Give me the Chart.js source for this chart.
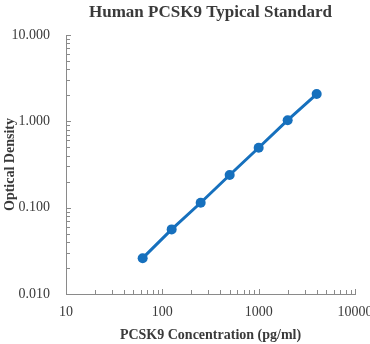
<!DOCTYPE html>
<html>
<head>
<meta charset="utf-8">
<script src="https://cdn.jsdelivr.net/npm/chart.js@4.4.1/dist/chart.umd.min.js"></script>
<style>
  html, body { margin: 0; padding: 0; background: #ffffff; }
  #c { display: block; }
</style>
</head>
<body>
<canvas id="c" width="370" height="344"></canvas>
<script>
// Standard curve: PCSK9 concentration (pg/ml) vs optical density
const concentrations = [62.5, 125, 250, 500, 1000, 2000, 4000];
const opticalDensity = [0.026, 0.056, 0.114, 0.239, 0.494, 1.03, 2.07];

// Decade ticks that carry labels
const xTickValues = [10, 100, 1000, 10000];
const yTickValues = [0.01, 0.1, 1, 10];

const chartTitle = 'Human PCSK9 Typical Standard';
const xAxisTitle = 'PCSK9 Concentration (pg/ml)';
const yAxisTitle = 'Optical Density';

const SERIF = '"Liberation Serif", "Times New Roman", serif';
const TEXT_COLOR = '#3a3a3a';
const AXIS_COLOR = '#8a8a8a';
const LINE_COLOR = '#1670bd';

// Short inward tick marks at every 1..9 step of each log decade
const innerTicks = {
  id: 'innerTicks',
  afterDraw(chart) {
    const ctx = chart.ctx;
    const { left, bottom } = chart.chartArea;
    const xs = chart.scales.x, ys = chart.scales.y;
    ctx.save();
    ctx.strokeStyle = AXIS_COLOR;
    ctx.lineWidth = 1;
    ctx.beginPath();
    const marks = (min, max, fn) => {
      for (let d = min; d < max * 1.0001; d *= 10) {
        for (let m = 1; m <= 9; m++) {
          const v = d * m;
          if (v > max * 1.0001) break;
          fn(v, m === 1);
        }
      }
    };
    marks(xs.min, xs.max, (v, major) => {
      const px = Math.round(xs.getPixelForValue(v)) + 0.5;
      ctx.moveTo(px, bottom);
      ctx.lineTo(px, bottom - (major ? 5 : 4));
    });
    marks(ys.min, ys.max, (v, major) => {
      const py = Math.round(ys.getPixelForValue(v)) + 0.5;
      ctx.moveTo(left, py);
      ctx.lineTo(left + (major ? 5 : 4), py);
    });
    ctx.stroke();
    ctx.restore();
  }
};

// Title centred over the plotting area
const plotTitle = {
  id: 'plotTitle',
  afterDraw(chart) {
    const ctx = chart.ctx;
    const { left, right } = chart.chartArea;
    ctx.save();
    ctx.font = 'bold 17px ' + SERIF;
    ctx.fillStyle = TEXT_COLOR;
    ctx.textAlign = 'center';
    ctx.textBaseline = 'middle';
    ctx.fillText(chartTitle, (left + right) / 2, 13);
    ctx.restore();
  }
};

const points = concentrations.map((x, i) => ({ x: x, y: opticalDensity[i] }));

new Chart(document.getElementById('c'), {
  type: 'line',
  data: {
    datasets: [{
      data: points,
      borderColor: LINE_COLOR,
      backgroundColor: LINE_COLOR,
      borderWidth: 3,
      pointRadius: 5,
      pointHoverRadius: 5,
      pointBorderWidth: 0,
      tension: 0
    }]
  },
  options: {
    responsive: false,
    animation: false,
    devicePixelRatio: 1,
    layout: { padding: { top: 35, right: 15, left: 0, bottom: 0 } },
    plugins: {
      legend: { display: false },
      tooltip: { enabled: false }
    },
    scales: {
      x: {
        type: 'logarithmic',
        min: 10,
        max: 10000,
        afterBuildTicks: (s) => { s.ticks = xTickValues.map(v => ({ value: v })); },
        afterFit: (s) => { s.height = 50; s.paddingRight = 0; s.paddingLeft = 0; },
        grid: { display: false, drawTicks: false },
        border: { display: true, color: AXIS_COLOR, width: 1 },
        ticks: {
          autoSkip: false,
          maxRotation: 0,
          padding: 10,
          color: TEXT_COLOR,
          font: { family: SERIF, size: 14 },
          callback: (v) => String(v)
        },
        title: {
          display: true,
          text: xAxisTitle,
          color: TEXT_COLOR,
          font: { family: SERIF, size: 14, weight: 'bold' },
          padding: { top: 3, bottom: 0 }
        }
      },
      y: {
        type: 'logarithmic',
        min: 0.01,
        max: 10,
        afterBuildTicks: (s) => { s.ticks = yTickValues.map(v => ({ value: v })); },
        afterFit: (s) => { s.width = 66; },
        grid: { display: false, drawTicks: false },
        border: { display: true, color: AXIS_COLOR, width: 1 },
        ticks: {
          autoSkip: false,
          padding: 16,
          color: TEXT_COLOR,
          font: { family: SERIF, size: 14 },
          callback: (v) => Number(v).toFixed(3)
        },
        title: {
          display: true,
          text: yAxisTitle,
          color: TEXT_COLOR,
          font: { family: SERIF, size: 14, weight: 'bold' },
          padding: { top: 2, bottom: 0 }
        }
      }
    }
  },
  plugins: [innerTicks, plotTitle]
});
</script>
</body>
</html>
